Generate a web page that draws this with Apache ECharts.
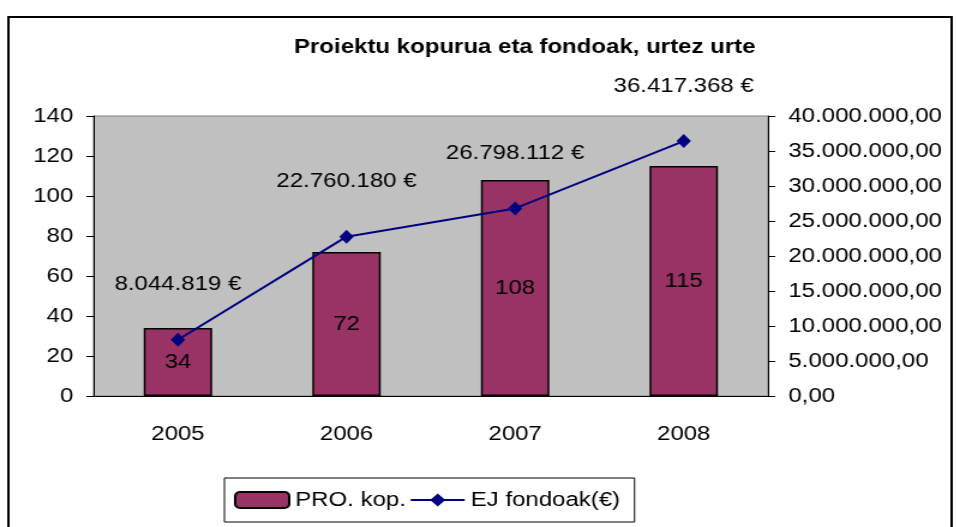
<!DOCTYPE html>
<html>
<head>
<meta charset="utf-8">
<script src="https://cdn.jsdelivr.net/npm/echarts@6/dist/echarts.min.js"></script>
<style>
  html, body { margin: 0; padding: 0; background: #fff; overflow: hidden; }
  /* the original picture is stretched sideways, so the chart is drawn narrower and scaled */
  #chart { width: 797px; height: 527px; transform: scaleX(1.2); transform-origin: 0 0; }
</style>
</head>
<body>
<div id="chart"></div>
<script>
const years = ['2005', '2006', '2007', '2008'];
const proKop = [34, 72, 108, 115];
const ejFondoak = [8044819, 22760180, 26798112, 36417368];

const font = 'Liberation Sans, Arial, sans-serif';

// 1234567 -> 1.234.567
function thousands(n) {
  return String(Math.round(n)).replace(/\B(?=(\d{3})+(?!\d))/g, '.');
}

const chart = echarts.init(document.getElementById('chart'));

const option = {
  backgroundColor: '#fff',
  animation: false,
  textStyle: { fontFamily: font, color: '#000' },
  graphic: [{
    type: 'rect',
    shape: { x: 7, y: 17, width: 786, height: 520 },
    style: { fill: 'none', stroke: '#000', lineWidth: 2 },
    z: -1
  }],
  title: {
    text: 'Proiektu kopurua eta fondoak, urtez urte',
    left: 240,
    top: 32,
    textStyle: { fontFamily: font, fontSize: 20, fontWeight: 'bold', color: '#000' }
  },
  grid: {
    left: 78,
    right: 157,
    top: 116,
    bottom: 131,
    show: true,
    backgroundColor: '#c0c0c0',
    borderColor: '#808080',
    borderWidth: 1
  },
  legend: {
    left: 187,
    top: 478,
    padding: [12, 12, 12, 8],
    itemGap: 3,
    itemWidth: 45,
    itemHeight: 16,
    borderColor: '#000',
    borderWidth: 1,
    backgroundColor: '#fff',
    textStyle: { fontFamily: font, fontSize: 20, color: '#000' },
    data: ['PRO. kop.', 'EJ fondoak(€)']
  },
  xAxis: {
    type: 'category',
    data: years,
    axisLine: { lineStyle: { color: '#000', width: 1 } },
    axisTick: { length: 8, lineStyle: { color: '#000' } },
    axisLabel: { fontFamily: font, fontSize: 20, color: '#000', margin: 28 }
  },
  yAxis: [
    {
      type: 'value',
      min: 0,
      max: 140,
      interval: 20,
      splitLine: { show: false },
      axisLine: { show: true, lineStyle: { color: '#000' } },
      axisTick: { show: true, length: 6, lineStyle: { color: '#000' } },
      axisLabel: { fontFamily: font, fontSize: 20, color: '#000', margin: 17 }
    },
    {
      type: 'value',
      min: 0,
      max: 40000000,
      interval: 5000000,
      splitLine: { show: false },
      axisLine: { show: true, lineStyle: { color: '#000' } },
      axisTick: { show: true, length: 6, lineStyle: { color: '#000' } },
      axisLabel: {
        fontFamily: font, fontSize: 20, color: '#000', margin: 17,
        formatter: v => thousands(v) + ',00'
      }
    }
  ],
  series: [
    {
      name: 'PRO. kop.',
      type: 'bar',
      data: proKop,
      barWidth: 57,
      itemStyle: { color: '#993366', borderColor: '#000', borderWidth: 1.5 },
      label: {
        show: true,
        position: 'inside',
        fontFamily: font,
        fontSize: 20,
        color: '#000'
      }
    },
    {
      name: 'EJ fondoak(€)',
      type: 'line',
      yAxisIndex: 1,
      data: ejFondoak,
      symbol: 'diamond',
      symbolSize: [12, 14],
      lineStyle: { color: '#000080', width: 2 },
      itemStyle: { color: '#000080' },
      label: {
        show: true,
        position: 'top',
        distance: 38,
        fontFamily: font,
        fontSize: 20,
        color: '#000',
        formatter: p => thousands(p.value) + ' €'
      }
    }
  ]
};

chart.setOption(option);
</script>
</body>
</html>
